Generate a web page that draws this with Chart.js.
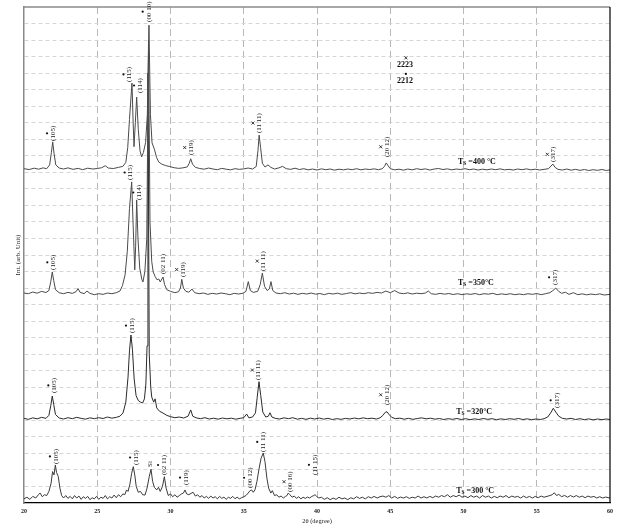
<!DOCTYPE html>
<html>
<head>
<meta charset="utf-8">
<script src="https://cdn.jsdelivr.net/npm/chart.js@4.4.0/dist/chart.umd.min.js"></script>
<style>
  html, body { margin: 0; padding: 0; background: #fff; }
  #wrap { width: 620px; height: 524px; position: relative; }
</style>
</head>
<body>
<div id="wrap"><canvas id="xrdChart"></canvas></div>
<script>
// XRD patterns, stacked: [2theta (deg), intensity (arb., offset per trace)]
const xTicks = [20, 25, 30, 35, 40, 45, 50, 55, 60];

const scan400 = [
  [20.0,20.22],[20.35,20.17],[20.7,20.25],[21.0,20.19],[21.3,20.27],[21.55,20.22],[21.75,20.45],[21.87,21.2],
  [21.96,21.84],[22.05,21.15],[22.17,20.45],[22.4,20.26],[22.7,20.2],[23.0,20.27],[23.35,20.18],[23.7,20.24],
  [24.0,20.16],[24.35,20.25],[24.7,20.2],[25.0,20.23],[25.3,20.28],[25.55,20.4],[25.75,20.26],[26.1,20.23],
  [26.45,20.3],[26.75,20.36],[26.95,20.6],[27.08,21.5],[27.2,23.2],[27.37,25.4],[27.45,23.0],[27.51,21.55],
  [27.6,23.0],[27.69,24.55],[27.8,22.6],[27.92,21.3],[28.03,20.93],[28.15,21.2],[28.3,21.8],[28.42,23.5],
  [28.53,28.9],[28.63,23.5],[28.74,21.78],[28.9,21.4],[29.05,20.9],[29.2,20.62],[29.4,20.5],[29.65,20.41],
  [29.95,20.35],[30.25,20.28],[30.55,20.24],[30.85,20.27],[31.15,20.33],[31.28,20.55],[31.38,20.82],[31.5,20.5],
  [31.7,20.3],[32.0,20.23],[32.3,20.19],[32.6,20.26],[32.9,20.2],[33.2,20.16],[33.5,20.24],[33.8,20.19],
  [34.1,20.15],[34.4,20.22],[34.7,20.18],[35.0,20.21],[35.3,20.26],[35.6,20.2],[35.85,20.35],[35.97,21.3],
  [36.05,22.25],[36.15,21.5],[36.27,20.55],[36.45,20.32],[36.65,20.45],[36.85,20.3],[37.1,20.2],[37.4,20.27],
  [37.65,20.36],[37.9,20.22],[38.2,20.18],[38.5,20.25],[38.8,20.17],[39.1,20.22],[39.4,20.15],[39.7,20.2],
  [40.0,20.14],[40.3,20.21],[40.6,20.16],[40.9,20.2],[41.2,20.13],[41.5,20.19],[41.8,20.15],[42.1,20.2],
  [42.4,20.16],[42.7,20.22],[43.0,20.15],[43.3,20.2],[43.6,20.17],[43.9,20.21],[44.2,20.16],[44.45,20.22],
  [44.6,20.35],[44.73,20.57],[44.85,20.4],[45.0,20.22],[45.3,20.15],[45.6,20.19],[45.9,20.13],[46.2,20.2],
  [46.5,20.15],[46.8,20.22],[47.1,20.17],[47.4,20.21],[47.7,20.14],[48.0,20.2],[48.3,20.23],[48.6,20.17],
  [48.9,20.21],[49.2,20.15],[49.5,20.2],[49.8,20.17],[50.1,20.22],[50.4,20.16],[50.7,20.2],[51.0,20.14],
  [51.3,20.19],[51.6,20.15],[51.9,20.2],[52.2,20.16],[52.5,20.21],[52.8,20.15],[53.1,20.18],[53.4,20.14],
  [53.7,20.2],[54.0,20.16],[54.3,20.21],[54.6,20.15],[54.9,20.19],[55.2,20.14],[55.5,20.18],[55.8,20.22],
  [55.97,20.38],[56.1,20.5],[56.25,20.3],[56.45,20.18],[56.75,20.14],[57.05,20.2],[57.35,20.13],[57.65,20.18],
  [57.95,20.12],[58.25,20.17],[58.55,20.11],[58.85,20.16],[59.15,20.12],[59.45,20.17],[59.75,20.11],[60.0,20.15]
];

const scan350 = [
  [20.0,12.7],[20.3,12.66],[20.6,12.76],[20.9,12.69],[21.2,12.8],[21.5,12.73],[21.7,12.85],[21.83,13.4],
  [21.93,13.97],[22.03,13.45],[22.15,12.9],[22.4,12.72],[22.7,12.66],[23.0,12.74],[23.3,12.68],[23.55,12.78],
  [23.69,12.97],[23.82,12.75],[24.1,12.66],[24.3,12.82],[24.5,12.68],[24.8,12.6],[25.1,12.66],[25.4,12.62],
  [25.7,12.7],[26.0,12.66],[26.3,12.72],[26.55,12.82],[26.72,13.15],[26.9,13.8],[27.05,15.2],[27.2,17.8],
  [27.35,19.42],[27.45,16.8],[27.56,14.1],[27.62,15.5],[27.69,18.33],[27.78,16.0],[27.9,14.2],[28.05,13.5],
  [28.12,13.37],[28.25,14.0],[28.38,16.0],[28.5,28.0],[28.6,17.0],[28.72,14.6],[28.82,13.97],[28.95,13.7],
  [29.08,13.5],[29.2,13.55],[29.3,13.37],[29.49,13.67],[29.6,13.2],[29.75,12.9],[30.0,12.8],[30.3,12.72],
  [30.55,12.78],[30.68,13.0],[30.77,13.53],[30.88,13.0],[31.05,12.8],[31.25,12.75],[31.47,12.94],[31.65,12.72],
  [31.95,12.66],[32.25,12.7],[32.55,12.62],[32.85,12.68],[33.15,12.64],[33.45,12.7],[33.75,12.66],[34.05,12.6],
  [34.35,12.68],[34.65,12.64],[34.95,12.69],[35.15,12.8],[35.31,13.39],[35.45,12.85],[35.65,12.74],[35.95,12.8],
  [36.12,13.2],[36.27,13.9],[36.42,13.1],[36.6,12.85],[36.75,12.95],[36.86,13.39],[36.98,12.85],[37.2,12.7],
  [37.5,12.66],[37.8,12.72],[38.1,12.64],[38.4,12.69],[38.7,12.62],[39.0,12.68],[39.3,12.64],[39.6,12.7],
  [39.9,12.63],[40.2,12.67],[40.5,12.6],[40.8,12.68],[41.1,12.64],[41.4,12.69],[41.7,12.62],[42.0,12.67],
  [42.3,12.72],[42.6,12.65],[42.9,12.7],[43.2,12.66],[43.5,12.72],[43.8,12.68],[44.1,12.74],[44.4,12.7],
  [44.7,12.82],[45.0,12.72],[45.3,12.85],[45.6,12.7],[45.9,12.66],[46.2,12.71],[46.5,12.64],[46.8,12.69],
  [47.1,12.66],[47.4,12.7],[47.6,12.82],[47.8,12.66],[48.1,12.62],[48.4,12.68],[48.7,12.63],[49.0,12.67],
  [49.3,12.61],[49.6,12.66],[49.9,12.6],[50.2,12.65],[50.5,12.62],[50.8,12.67],[51.1,12.6],[51.4,12.66],
  [51.7,12.63],[52.0,12.68],[52.3,12.6],[52.6,12.65],[52.9,12.61],[53.2,12.66],[53.5,12.6],[53.8,12.64],
  [54.1,12.6],[54.4,12.66],[54.7,12.62],[55.0,12.67],[55.3,12.6],[55.6,12.66],[55.9,12.72],[56.1,12.85],
  [56.3,13.0],[56.5,12.8],[56.7,12.68],[56.95,12.75],[57.2,12.62],[57.5,12.72],[57.8,12.6],[58.1,12.65],
  [58.4,12.59],[58.7,12.64],[59.0,12.6],[59.3,12.65],[59.6,12.58],[60.0,12.62]
];

const scan320 = [
  [20.0,5.12],[20.3,5.06],[20.6,5.15],[20.9,5.09],[21.2,5.18],[21.5,5.12],[21.7,5.3],[21.83,5.9],
  [21.93,6.47],[22.03,5.95],[22.15,5.35],[22.4,5.14],[22.7,5.08],[23.0,5.16],[23.3,5.1],[23.6,5.18],
  [23.9,5.12],[24.2,5.07],[24.5,5.15],[24.8,5.1],[25.1,5.16],[25.4,5.11],[25.7,5.2],[26.0,5.13],
  [26.3,5.18],[26.55,5.25],[26.76,5.45],[26.95,6.1],[27.1,7.6],[27.2,9.2],[27.3,10.16],[27.4,9.3],
  [27.52,7.5],[27.65,6.5],[27.8,6.2],[27.95,6.1],[28.1,6.05],[28.22,6.3],[28.32,7.2],[28.4,9.5],
  [28.46,26.0],[28.55,9.0],[28.65,7.0],[28.72,6.41],[28.85,6.1],[28.95,6.3],[29.06,5.75],[29.25,5.55],
  [29.49,5.44],[29.75,5.3],[30.0,5.22],[30.3,5.16],[30.6,5.2],[30.9,5.14],[31.2,5.25],[31.38,5.63],
  [31.52,5.25],[31.75,5.15],[32.05,5.1],[32.35,5.16],[32.65,5.08],[32.95,5.13],[33.25,5.07],[33.55,5.14],
  [33.85,5.09],[34.15,5.13],[34.45,5.07],[34.75,5.12],[35.0,5.16],[35.2,5.38],[35.35,5.15],[35.6,5.2],
  [35.8,5.45],[35.92,6.4],[36.04,7.34],[36.16,6.5],[36.3,5.5],[36.5,5.2],[36.68,5.25],[36.79,5.46],
  [36.92,5.2],[37.15,5.12],[37.45,5.08],[37.75,5.15],[38.05,5.1],[38.35,5.16],[38.65,5.07],[38.95,5.12],
  [39.25,5.06],[39.55,5.13],[39.85,5.08],[40.15,5.14],[40.45,5.07],[40.75,5.12],[41.05,5.05],[41.35,5.1],
  [41.65,5.06],[41.95,5.12],[42.25,5.08],[42.55,5.14],[42.85,5.09],[43.15,5.15],[43.45,5.1],[43.75,5.13],
  [44.05,5.08],[44.3,5.15],[44.5,5.3],[44.65,5.48],[44.78,5.52],[44.92,5.35],[45.1,5.18],[45.35,5.1],
  [45.65,5.13],[45.95,5.07],[46.25,5.12],[46.55,5.06],[46.85,5.11],[47.15,5.15],[47.45,5.09],[47.75,5.13],
  [48.05,5.07],[48.35,5.11],[48.65,5.05],[48.95,5.1],[49.25,5.06],[49.55,5.11],[49.85,5.05],[50.15,5.1],
  [50.45,5.04],[50.75,5.09],[51.05,5.05],[51.35,5.11],[51.65,5.06],[51.95,5.1],[52.25,5.04],[52.55,5.09],
  [52.85,5.05],[53.15,5.1],[53.45,5.06],[53.75,5.11],[54.05,5.05],[54.35,5.09],[54.65,5.04],[54.95,5.08],
  [55.25,5.05],[55.5,5.1],[55.75,5.2],[55.95,5.45],[56.13,5.73],[56.3,5.5],[56.5,5.25],[56.75,5.12],
  [57.05,5.08],[57.35,5.12],[57.65,5.05],[57.95,5.1],[58.25,5.04],[58.55,5.09],[58.85,5.03],[59.15,5.08],
  [59.45,5.04],[59.75,5.08],[60.0,5.05]
];

const scan300 = [
  [20.0,0.25],[20.2,0.35],[20.4,0.22],[20.6,0.4],[20.8,0.3],[21.0,0.52],[21.1,0.6],[21.25,0.38],
  [21.4,0.5],[21.55,0.45],[21.7,0.7],[21.85,1.2],[21.95,1.9],[22.05,1.7],[22.14,2.3],[22.22,1.85],
  [22.34,1.6],[22.45,0.9],[22.57,0.45],[22.7,0.3],[22.85,0.45],[23.0,0.28],[23.15,0.4],[23.3,0.25],
  [23.45,0.45],[23.6,0.3],[23.75,0.42],[23.9,0.22],[24.05,0.38],[24.2,0.28],[24.35,0.4],[24.5,0.2],
  [24.65,0.32],[24.8,0.25],[24.95,0.4],[25.1,0.22],[25.25,0.35],[25.4,0.28],[25.55,0.45],[25.7,0.25],
  [25.85,0.38],[26.0,0.3],[26.15,0.48],[26.3,0.32],[26.45,0.5],[26.6,0.38],[26.75,0.55],[26.88,0.5],
  [27.0,0.79],[27.1,0.7],[27.22,1.1],[27.35,1.8],[27.46,2.2],[27.56,1.7],[27.66,1.0],[27.8,0.65],
  [27.95,0.7],[28.1,0.5],[28.26,0.48],[28.4,0.9],[28.55,1.6],[28.67,2.04],[28.78,1.3],[28.9,0.95],
  [29.06,0.79],[29.18,0.95],[29.3,0.7],[29.45,1.0],[29.58,1.59],[29.7,0.9],[29.85,0.45],[30.0,0.55],
  [30.15,0.38],[30.3,0.5],[30.45,0.35],[30.6,0.45],[30.75,0.55],[30.88,0.6],[30.99,0.79],[31.1,0.55],
  [31.25,0.5],[31.4,0.58],[31.54,0.65],[31.7,0.42],[31.85,0.5],[32.0,0.35],[32.15,0.45],[32.3,0.3],
  [32.45,0.4],[32.6,0.28],[32.75,0.42],[32.9,0.3],[33.05,0.38],[33.2,0.25],[33.35,0.4],[33.5,0.28],
  [33.65,0.36],[33.8,0.22],[33.95,0.35],[34.1,0.28],[34.25,0.4],[34.4,0.26],[34.55,0.35],[34.7,0.25],
  [34.85,0.32],[35.0,0.38],[35.15,0.45],[35.3,0.6],[35.43,0.75],[35.54,0.79],[35.65,0.65],[35.77,0.8],
  [35.9,1.3],[36.05,2.1],[36.18,2.7],[36.33,3.02],[36.45,2.5],[36.58,1.5],[36.7,0.9],[36.85,0.6],
  [36.95,0.75],[37.1,0.45],[37.25,0.5],[37.4,0.35],[37.55,0.42],[37.7,0.3],[37.85,0.4],[37.95,0.45],
  [38.04,0.6],[38.15,0.5],[38.3,0.35],[38.45,0.42],[38.6,0.28],[38.75,0.38],[38.9,0.25],[39.05,0.35],
  [39.2,0.28],[39.35,0.36],[39.5,0.3],[39.65,0.4],[39.78,0.45],[39.86,0.5],[39.97,0.42],[40.1,0.3],
  [40.3,0.35],[40.5,0.22],[40.7,0.32],[40.9,0.2],[41.1,0.3],[41.3,0.22],[41.5,0.35],[41.7,0.25],
  [41.9,0.3],[42.1,0.2],[42.3,0.32],[42.5,0.25],[42.7,0.38],[42.9,0.28],[43.1,0.35],[43.3,0.25],
  [43.5,0.38],[43.7,0.3],[43.9,0.4],[44.1,0.3],[44.3,0.38],[44.5,0.42],[44.7,0.35],[44.9,0.45],
  [45.1,0.3],[45.3,0.4],[45.5,0.28],[45.7,0.36],[45.9,0.3],[46.1,0.38],[46.3,0.28],[46.5,0.35],
  [46.7,0.3],[46.9,0.42],[47.1,0.3],[47.3,0.38],[47.5,0.3],[47.7,0.4],[47.9,0.32],[48.1,0.42],
  [48.3,0.35],[48.5,0.45],[48.7,0.38],[48.9,0.5],[49.1,0.35],[49.3,0.45],[49.5,0.38],[49.7,0.48],
  [49.9,0.35],[50.1,0.42],[50.3,0.32],[50.5,0.45],[50.7,0.35],[50.9,0.42],[51.1,0.3],[51.3,0.45],
  [51.5,0.35],[51.7,0.42],[51.9,0.3],[52.1,0.4],[52.3,0.32],[52.5,0.42],[52.7,0.35],[52.9,0.45],
  [53.1,0.32],[53.3,0.42],[53.5,0.35],[53.7,0.4],[53.9,0.3],[54.1,0.42],[54.3,0.32],[54.5,0.4],
  [54.7,0.3],[54.9,0.4],[55.1,0.32],[55.3,0.42],[55.5,0.35],[55.7,0.4],[55.9,0.45],[56.05,0.5],
  [56.2,0.62],[56.35,0.45],[56.5,0.52],[56.7,0.38],[56.9,0.46],[57.1,0.35],[57.3,0.45],[57.5,0.36],
  [57.7,0.45],[57.9,0.35],[58.1,0.42],[58.3,0.32],[58.5,0.42],[58.7,0.35],[58.9,0.4],[59.1,0.3],
  [59.3,0.38],[59.5,0.3],[59.7,0.36],[60.0,0.3]
];

// peak labels: [2theta, intensity at text start, text, phase mark]
const peakLabels = [
  [21.98, 21.9, "(105)", "dot"], [27.2, 25.47, "(115)", "dot"], [27.92, 24.8, "(114)", "dot"],
  [28.51, 29.1, "(00 10)", "dot"], [31.38, 21.05, "(119)", "x"], [36.04, 22.38, "(11 11)", "x"],
  [44.76, 20.93, "(20 12)", "x"], [56.13, 20.63, "(317)", "x"],
  [22.0, 14.1, "(105)", "dot"], [27.28, 19.54, "(115)", "dot"], [27.87, 18.33, "(114)", "dot"],
  [29.51, 13.85, "(02 11)", ""], [30.83, 13.67, "(119)", "x"], [36.33, 14.03, "(11 11)", "x"],
  [56.25, 13.19, "(317)", "dot"],
  [22.07, 6.65, "(105)", "dot"], [27.37, 10.28, "(115)", "dot"], [36.0, 7.44, "(11 11)", "x"],
  [44.76, 5.93, "(20 12)", "x"], [56.36, 5.75, "(317)", "dot"],
  [22.18, 2.36, "(105)", "dot"], [27.65, 2.3, "(115)", "dot"], [28.6, 2.18, "Si", ""],
  [29.56, 1.69, "(02 11)", "dot"], [31.06, 1.09, "(119)", "dot"], [35.43, 0.91, "(00 12)", "dot"],
  [36.33, 3.09, "(11 11)", "dot"], [38.16, 0.67, "(00 16)", "x"], [39.86, 1.7, "(11 15)", "dot"]
];

// sample temperature labels: [2theta, intensity, text after "TS"]
const tempLabels = [
  [49.62, 20.63, " =400 °C"], [49.62, 13.31, " =350°C"],
  [49.5, 5.5, " =320°C"], [49.5, 0.73, " =300 °C"]
];

const phaseKey = [[46.0, 26.5, "2223", "x"], [46.0, 25.53, "2212", "dot"]];

const serif = '"Liberation Serif", "DejaVu Serif", serif';

function drawMark(ctx, kind, px, py) {
  ctx.save();
  ctx.fillStyle = "#111";
  ctx.strokeStyle = "#111";
  ctx.lineWidth = 0.8;
  if (kind === "dot") {
    ctx.beginPath();
    ctx.arc(px, py, 1.1, 0, Math.PI * 2);
    ctx.fill();
  } else if (kind === "x") {
    ctx.beginPath();
    ctx.moveTo(px - 1.5, py - 1.5); ctx.lineTo(px + 1.5, py + 1.5);
    ctx.moveTo(px + 1.5, py - 1.5); ctx.lineTo(px - 1.5, py + 1.5);
    ctx.stroke();
  }
  ctx.restore();
}

const annotate = {
  id: "annotate",
  afterDraw(chart) {
    const { ctx, chartArea: a, scales: { x, y } } = chart;
    ctx.save();
    // frame: grey top, black right
    ctx.strokeStyle = "#8a8a8a";
    ctx.lineWidth = 1.5;
    ctx.beginPath(); ctx.moveTo(a.left, a.top); ctx.lineTo(a.right, a.top); ctx.stroke();
    ctx.strokeStyle = "#000";
    ctx.lineWidth = 1.2;
    ctx.beginPath(); ctx.moveTo(a.right, a.top); ctx.lineTo(a.right, a.bottom); ctx.stroke();

    // peak labels, vertical
    ctx.fillStyle = "#222";
    ctx.font = "7px " + serif;
    peakLabels.forEach(([tt, v, txt, mark]) => {
      const px = x.getPixelForValue(tt), py = y.getPixelForValue(v);
      const w = ctx.measureText(txt).width;
      ctx.save();
      ctx.translate(px, py);
      ctx.rotate(-Math.PI / 2);
      ctx.textAlign = "left";
      ctx.textBaseline = "middle";
      ctx.fillText(txt, 0, 0);
      ctx.restore();
      if (mark) drawMark(ctx, mark, px - 6, py - w / 2);
    });

    // temperature labels
    tempLabels.forEach(([tt, v, rest]) => {
      let px = x.getPixelForValue(tt);
      const py = y.getPixelForValue(v);
      ctx.fillStyle = "#111";
      ctx.textBaseline = "middle";
      ctx.textAlign = "left";
      ctx.font = "bold 8px " + serif;
      ctx.fillText("T", px, py);
      px += ctx.measureText("T").width;
      ctx.font = "bold 5.5px " + serif;
      ctx.fillText("S", px, py + 2);
      px += ctx.measureText("S").width;
      ctx.font = "bold 8px " + serif;
      ctx.fillText(rest, px, py);
    });

    // phase key
    ctx.font = "bold 8px " + serif;
    ctx.textAlign = "center";
    ctx.fillStyle = "#111";
    phaseKey.forEach(([tt, v, txt, mark]) => {
      const px = x.getPixelForValue(tt), py = y.getPixelForValue(v);
      ctx.fillText(txt, px, py);
      drawMark(ctx, mark, px + 1, py - 7);
    });

    // axis titles
    ctx.font = "6.5px " + serif;
    ctx.fillStyle = "#222";
    ctx.textAlign = "center";
    ctx.fillText("2θ (degree)", (a.left + a.right) / 2, 521);
    ctx.save();
    ctx.translate(18, 255);
    ctx.rotate(-Math.PI / 2);
    ctx.font = "7px " + serif;
    ctx.fillText("Int. (arb. Unit)", 0, 0);
    ctx.restore();
    ctx.restore();
  }
};

const toXY = (scan) => scan.map(([t, v]) => ({ x: t, y: v }));

new Chart(document.getElementById("xrdChart"), {
  type: "line",
  data: {
    datasets: [
      { label: "Ts = 400", data: toXY(scan400), borderColor: "#4a4a4a" },
      { label: "Ts = 350", data: toXY(scan350), borderColor: "#4a4a4a" },
      { label: "Ts = 320", data: toXY(scan320), borderColor: "#2a2a2a" },
      { label: "Ts = 300", data: toXY(scan300), borderColor: "#3a3a3a" }
    ]
  },
  options: {
    responsive: true,
    maintainAspectRatio: false,
    animation: false,
    events: [],
    layout: { padding: { top: 7, right: 10, left: 0, bottom: 0 } },
    elements: {
      line: { borderWidth: 1, tension: 0, fill: false },
      point: { radius: 0 }
    },
    plugins: { legend: { display: false }, tooltip: { enabled: false } },
    scales: {
      x: {
        type: "linear",
        min: 20,
        max: 60,
        afterBuildTicks: (s) => { s.ticks = xTicks.map((v) => ({ value: v })); },
        afterFit: (s) => { s.height = 21; },
        ticks: {
          padding: 5,
          color: "#222",
          font: { family: serif, size: 6, weight: "bold" }
        },
        grid: {
          drawTicks: false,
          color: (c) => (c.tick && (c.tick.value === 20 || c.tick.value === 60) ? "transparent" : "#b8b8b8"),
          lineWidth: 1
        },
        border: { display: true, color: "#000", width: 1.2, dash: [7, 4] }
      },
      y: {
        min: 0,
        max: 30,
        afterFit: (s) => { s.width = 24; },
        ticks: { stepSize: 1, display: false },
        grid: {
          drawTicks: false,
          color: (c) => (c.tick && (c.tick.value === 0 || c.tick.value === 30) ? "transparent" : "#d6d6d6"),
          lineWidth: 1
        },
        border: { display: true, color: "#8a8a8a", width: 1.5, dash: [4, 3] }
      }
    }
  },
  plugins: [annotate]
});
</script>
</body>
</html>
